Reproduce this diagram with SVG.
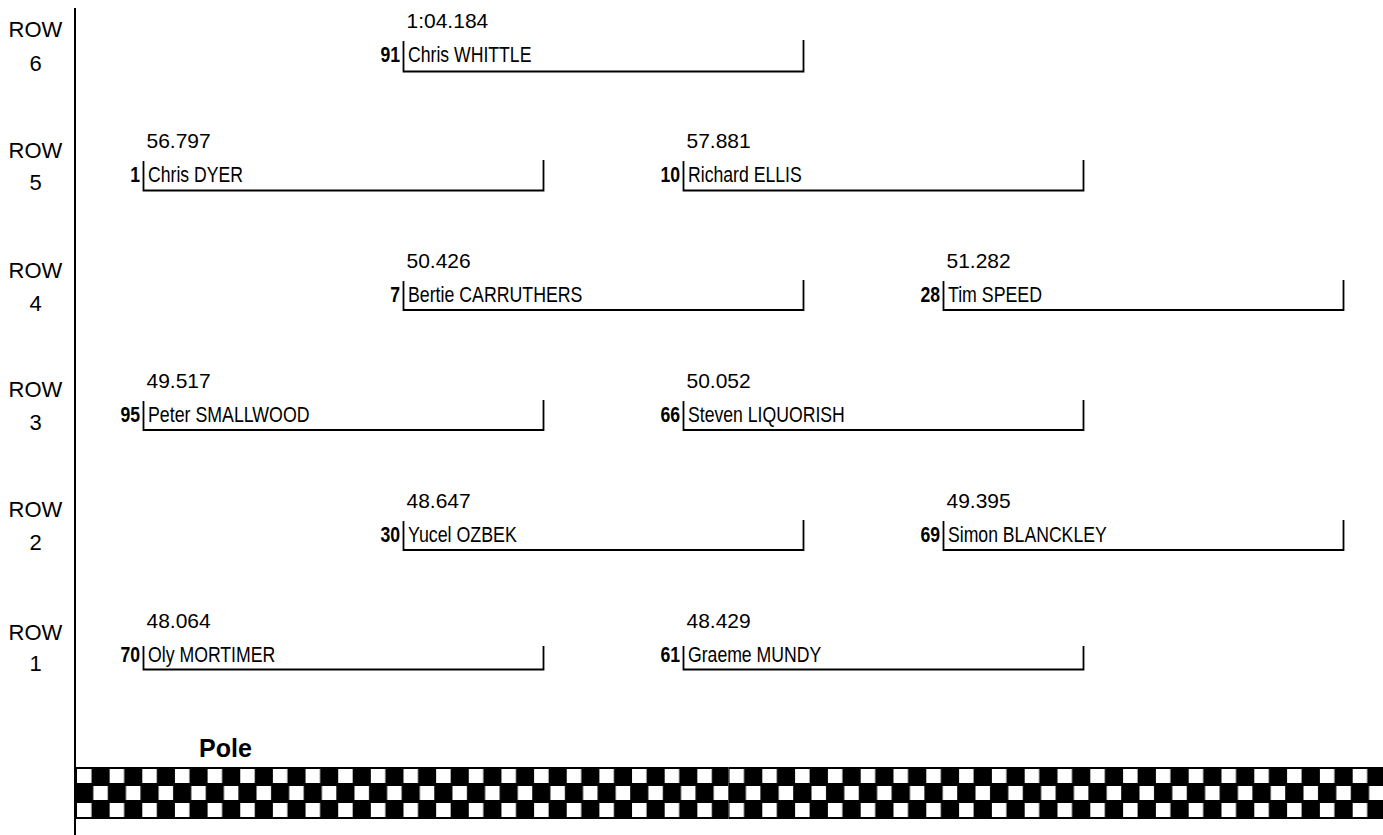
<svg xmlns="http://www.w3.org/2000/svg" width="1383" height="835" viewBox="0 0 1383 835">
<style>
.lbl{font-family:"Liberation Sans",Arial,sans-serif;font-size:22px;fill:#000;text-anchor:middle}
.time{font-family:"Liberation Sans",Arial,sans-serif;font-size:21px;fill:#000}
.name{font-family:"Liberation Sans Narrow","Arial Narrow","Liberation Sans",sans-serif;font-size:21.5px;fill:#000}
.num{font-family:"Liberation Sans Narrow","Arial Narrow","Liberation Sans",sans-serif;font-size:21.5px;font-weight:bold;fill:#000;text-anchor:end}
.box{fill:none;stroke:#000;stroke-width:1.8}
.pole{font-family:"Liberation Sans",Arial,sans-serif;font-size:25px;font-weight:bold;fill:#000}
</style>
<defs>
<pattern id="chk1" patternUnits="userSpaceOnUse" x="76" y="767" width="32.65" height="34">
<rect x="0" y="0" width="32.65" height="34" fill="#000"/>
<rect x="1" y="2" width="14.5" height="14" fill="#fff"/>
<rect x="17.3" y="19" width="14.5" height="14" fill="#fff"/>
</pattern>
<pattern id="chk2" patternUnits="userSpaceOnUse" x="728.5" y="767" width="32.8" height="34">
<rect x="0" y="0" width="32.8" height="34" fill="#000"/>
<rect x="1" y="2" width="14.5" height="14" fill="#fff"/>
<rect x="17.4" y="19" width="14.5" height="14" fill="#fff"/>
</pattern>
</defs>
<rect width="1383" height="835" fill="#fff"/>

<g id="row-labels">
<text class="lbl" x="35.5" y="37">ROW</text><text class="lbl" x="35.5" y="71">6</text>
<text class="lbl" x="35.5" y="158">ROW</text><text class="lbl" x="35.5" y="190">5</text>
<text class="lbl" x="35.5" y="278">ROW</text><text class="lbl" x="35.5" y="311">4</text>
<text class="lbl" x="35.5" y="397">ROW</text><text class="lbl" x="35.5" y="430">3</text>
<text class="lbl" x="35.5" y="517">ROW</text><text class="lbl" x="35.5" y="550">2</text>
<text class="lbl" x="35.5" y="640">ROW</text><text class="lbl" x="35.5" y="671">1</text>
</g>

<g id="track">
<line x1="75" y1="8" x2="75" y2="835" stroke="#000" stroke-width="2"/>
<rect x="76" y="767" width="652.5" height="52" fill="url(#chk1)"/>
<rect x="728.5" y="767" width="654.5" height="52" fill="url(#chk2)"/>
<text class="pole" x="199" y="757">Pole</text>
</g>

<g id="connectors"></g>

<g id="node-91">
<text class="time" x="406.5" y="28">1:04.184</text>
<text class="num" x="400" y="62" textLength="19.6" lengthAdjust="spacingAndGlyphs">91</text>
<text class="name" x="408" y="62" textLength="123.4" lengthAdjust="spacingAndGlyphs">Chris WHITTLE</text>
<polyline class="box" points="403.5,41 403.5,71.5 803.5,71.5 803.5,40"/>
</g>

<g id="node-1">
<text class="time" x="146.5" y="148">56.797</text>
<text class="num" x="140" y="182" textLength="9.8" lengthAdjust="spacingAndGlyphs">1</text>
<text class="name" x="148" y="182" textLength="95" lengthAdjust="spacingAndGlyphs">Chris DYER</text>
<polyline class="box" points="143.5,161 143.5,190.5 543.5,190.5 543.5,160"/>
</g>

<g id="node-10">
<text class="time" x="686.5" y="148">57.881</text>
<text class="num" x="680" y="182" textLength="19.6" lengthAdjust="spacingAndGlyphs">10</text>
<text class="name" x="688" y="182" textLength="113.7" lengthAdjust="spacingAndGlyphs">Richard ELLIS</text>
<polyline class="box" points="683.5,161 683.5,190.5 1083.5,190.5 1083.5,160"/>
</g>

<g id="node-7">
<text class="time" x="406.5" y="268">50.426</text>
<text class="num" x="400" y="302" textLength="9.8" lengthAdjust="spacingAndGlyphs">7</text>
<text class="name" x="408" y="302" textLength="174.4" lengthAdjust="spacingAndGlyphs">Bertie CARRUTHERS</text>
<polyline class="box" points="403.5,281 403.5,310 803.5,310 803.5,280"/>
</g>

<g id="node-28">
<text class="time" x="946.5" y="268">51.282</text>
<text class="num" x="940" y="302" textLength="19.6" lengthAdjust="spacingAndGlyphs">28</text>
<text class="name" x="948" y="302" textLength="94" lengthAdjust="spacingAndGlyphs">Tim SPEED</text>
<polyline class="box" points="943.5,281 943.5,310 1343.5,310 1343.5,280"/>
</g>

<g id="node-95">
<text class="time" x="146.5" y="388">49.517</text>
<text class="num" x="140" y="422" textLength="19.6" lengthAdjust="spacingAndGlyphs">95</text>
<text class="name" x="148" y="422" textLength="161.6" lengthAdjust="spacingAndGlyphs">Peter SMALLWOOD</text>
<polyline class="box" points="143.5,401 143.5,430 543.5,430 543.5,400"/>
</g>

<g id="node-66">
<text class="time" x="686.5" y="388">50.052</text>
<text class="num" x="680" y="422" textLength="19.6" lengthAdjust="spacingAndGlyphs">66</text>
<text class="name" x="688" y="422" textLength="156.8" lengthAdjust="spacingAndGlyphs">Steven LIQUORISH</text>
<polyline class="box" points="683.5,401 683.5,430 1083.5,430 1083.5,400"/>
</g>

<g id="node-30">
<text class="time" x="406.5" y="508">48.647</text>
<text class="num" x="400" y="542" textLength="19.6" lengthAdjust="spacingAndGlyphs">30</text>
<text class="name" x="408" y="542" textLength="108.8" lengthAdjust="spacingAndGlyphs">Yucel OZBEK</text>
<polyline class="box" points="403.5,521 403.5,550 803.5,550 803.5,520"/>
</g>

<g id="node-69">
<text class="time" x="946.5" y="508">49.395</text>
<text class="num" x="940" y="542" textLength="19.6" lengthAdjust="spacingAndGlyphs">69</text>
<text class="name" x="948" y="542" textLength="158.7" lengthAdjust="spacingAndGlyphs">Simon BLANCKLEY</text>
<polyline class="box" points="943.5,521 943.5,550 1343.5,550 1343.5,520"/>
</g>

<g id="node-70">
<text class="time" x="146.5" y="628">48.064</text>
<text class="num" x="140" y="662" textLength="19.6" lengthAdjust="spacingAndGlyphs">70</text>
<text class="name" x="148" y="662" textLength="127.3" lengthAdjust="spacingAndGlyphs">Oly MORTIMER</text>
<polyline class="box" points="143.5,646 143.5,669.5 543.5,669.5 543.5,646"/>
</g>

<g id="node-61">
<text class="time" x="686.5" y="628">48.429</text>
<text class="num" x="680" y="662" textLength="19.6" lengthAdjust="spacingAndGlyphs">61</text>
<text class="name" x="688" y="662" textLength="133.2" lengthAdjust="spacingAndGlyphs">Graeme MUNDY</text>
<polyline class="box" points="683.5,646 683.5,669.5 1083.5,669.5 1083.5,646"/>
</g>
</svg>
